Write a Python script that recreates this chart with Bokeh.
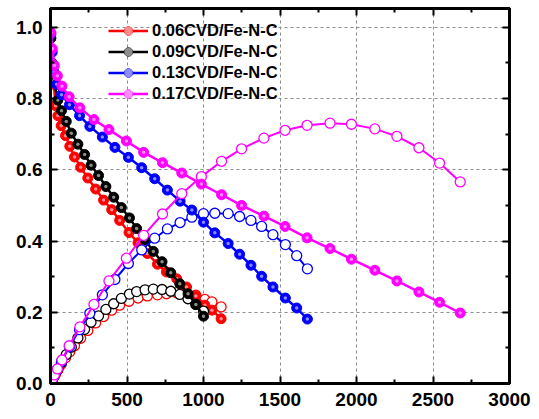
from bokeh.plotting import figure
from bokeh.models import LinearAxis, Range1d, FixedTicker, CustomJSTickFormatter, Legend, LegendItem
from bokeh.embed import file_html
from bokeh.resources import INLINE

# ---- data ----
labels = ["0.06CVD/Fe-N-C", "0.09CVD/Fe-N-C", "0.13CVD/Fe-N-C", "0.17CVD/Fe-N-C"]
colors = ["#ff0000", "#000000", "#0000ff", "#ff00ff"]

i_006 = [2, 10, 22, 33, 48, 70, 98, 126, 157, 197, 244, 295, 347, 400, 452, 513, 572, 633, 699, 758, 825, 889, 950, 1009, 1055, 1115]
v_006 = [0.97, 0.90, 0.84, 0.78, 0.752, 0.724, 0.696, 0.666, 0.636, 0.607, 0.577, 0.546, 0.515, 0.488, 0.458, 0.424, 0.395, 0.365, 0.335, 0.313, 0.294, 0.271, 0.246, 0.220, 0.206, 0.182]
p_006 = [0.002, 0.010, 0.020, 0.027, 0.038, 0.054, 0.072, 0.089, 0.106, 0.127, 0.149, 0.170, 0.188, 0.206, 0.220, 0.231, 0.240, 0.246, 0.249, 0.252, 0.255, 0.254, 0.248, 0.236, 0.229, 0.215]

i_009 = [2, 10, 22, 48, 72, 103, 136, 179, 223, 265, 314, 362, 413, 463, 516, 563, 618, 672, 729, 786, 845, 899, 950, 1000]
v_009 = [0.97, 0.90, 0.851, 0.796, 0.766, 0.736, 0.703, 0.672, 0.643, 0.613, 0.584, 0.553, 0.523, 0.494, 0.465, 0.435, 0.404, 0.371, 0.342, 0.311, 0.280, 0.252, 0.222, 0.189]
p_009 = [0.002, 0.010, 0.020, 0.041, 0.059, 0.081, 0.102, 0.128, 0.152, 0.172, 0.190, 0.208, 0.224, 0.239, 0.251, 0.258, 0.263, 0.265, 0.264, 0.259, 0.250, 0.238, 0.222, 0.203]

i_013 = [2, 11, 22, 40, 72, 124, 190, 257, 339, 421, 509, 596, 681, 764, 847, 924, 1000, 1074, 1161, 1236, 1310, 1380, 1454, 1535, 1609, 1679]
v_013 = [0.98, 0.93, 0.875, 0.84, 0.811, 0.783, 0.752, 0.722, 0.692, 0.663, 0.635, 0.606, 0.575, 0.543, 0.512, 0.487, 0.453, 0.423, 0.393, 0.363, 0.332, 0.301, 0.271, 0.240, 0.212, 0.181]
p_013 = [0.002, 0.011, 0.020, 0.036, 0.062, 0.103, 0.151, 0.197, 0.249, 0.292, 0.337, 0.375, 0.408, 0.434, 0.452, 0.467, 0.477, 0.478, 0.477, 0.469, 0.458, 0.441, 0.418, 0.390, 0.359, 0.322]

i_017 = [3, 12, 25, 45, 75, 122, 192, 284, 382, 496, 609, 732, 858, 986, 1118, 1249, 1395, 1533, 1677, 1827, 1967, 2120, 2264, 2408, 2543, 2678]
v_017 = [0.985, 0.94, 0.893, 0.864, 0.835, 0.805, 0.774, 0.741, 0.713, 0.681, 0.649, 0.620, 0.591, 0.560, 0.530, 0.500, 0.470, 0.441, 0.409, 0.379, 0.349, 0.318, 0.288, 0.257, 0.228, 0.198]
p_017 = [0.003, 0.012, 0.024, 0.041, 0.066, 0.106, 0.159, 0.222, 0.288, 0.352, 0.416, 0.476, 0.533, 0.581, 0.624, 0.659, 0.689, 0.711, 0.725, 0.731, 0.728, 0.715, 0.694, 0.662, 0.619, 0.566]

x_ticks = [0, 500, 1000, 1500, 2000, 2500, 3000]
y_ticks = [0.0, 0.2, 0.4, 0.6, 0.8, 1.0]

series = [
    (i_006, v_006, p_006),
    (i_009, v_009, p_009),
    (i_013, v_013, p_013),
    (i_017, v_017, p_017),
]

FONT = "Liberation Sans"

p = figure(width=539, height=419, output_backend="svg", toolbar_location=None,
           x_range=Range1d(0, 3000), y_range=Range1d(0, 1.053),
           min_border_left=50, min_border_right=30, min_border_top=8, min_border_bottom=36)
p.outline_line_color = "black"
p.outline_line_width = 3
p.background_fill_color = "white"
p.border_fill_color = "white"

for g in (p.xgrid[0], p.ygrid[0]):
    g.grid_line_color = "#8c8c8c"
    g.grid_line_dash = "3 3"
    g.grid_line_width = 1
p.xgrid[0].ticker = FixedTicker(ticks=x_ticks[1:-1])
p.ygrid[0].ticker = FixedTicker(ticks=y_ticks[1:])

def style_axis(ax, ticks, minor, show_labels, fmt, standoff=7):
    ax.ticker = FixedTicker(ticks=ticks, minor_ticks=minor)
    ax.axis_line_width = 3
    ax.axis_line_color = "black"
    ax.major_tick_in = 7
    ax.major_tick_out = 0
    ax.minor_tick_in = 4
    ax.minor_tick_out = 0
    ax.major_tick_line_width = 2
    ax.minor_tick_line_width = 2
    ax.major_tick_line_color = "black"
    ax.minor_tick_line_color = "black"
    if show_labels:
        ax.major_label_text_font = FONT
        ax.major_label_text_font_style = "bold"
        ax.major_label_text_font_size = "19px"
        ax.major_label_text_color = "black"
        ax.major_label_standoff = standoff
        ax.formatter = CustomJSTickFormatter(code=fmt)
    else:
        ax.major_label_text_alpha = 0
        ax.major_label_text_font_size = "1px"

x_minor = [250, 750, 1250, 1750, 2250, 2750]
y_minor = [0.1, 0.3, 0.5, 0.7, 0.9]

style_axis(p.xaxis[0], x_ticks, x_minor, True, "return tick.toFixed(0);", standoff=9)
style_axis(p.yaxis[0], y_ticks, y_minor, True, "return tick.toFixed(1);", standoff=8)
top = LinearAxis()
right = LinearAxis()
style_axis(top, x_ticks, x_minor, False, "")
style_axis(right, y_ticks, y_minor, False, "")
p.add_layout(top, "above")
p.add_layout(right, "right")

items = []
for (cur, volt, powr), col, lab in zip(series, colors, labels):
    # power density (open circles)
    p.line(cur, powr, line_color=col, line_width=2)
    p.scatter(cur, powr, size=10, marker="circle", fill_color="white", line_color=col, line_width=1.3)
    # polarization (filled spheres)
    l = p.line(cur, volt, line_color=col, line_width=2.5)
    s = p.scatter(cur, volt, size=10, marker="circle", fill_color=col, line_color=col, line_width=1)
    h = p.scatter(cur, volt, size=3.5, marker="circle", fill_color="white", fill_alpha=0.55, line_alpha=0)
    items.append(LegendItem(label=lab, renderers=[l, s, h]))

leg = Legend(items=items, location=(58, 279))
leg.background_fill_alpha = 0
leg.border_line_alpha = 0
leg.label_text_font = FONT
leg.label_text_font_style = "bold"
leg.label_text_font_size = "16.5px"
leg.label_text_color = "black"
leg.glyph_width = 40
leg.glyph_height = 21
leg.label_height = 21
leg.label_standoff = 4
leg.spacing = 0
leg.padding = 0
leg.margin = 0
p.add_layout(leg, "center")

open("out.html", "w").write(file_html(p, INLINE))
